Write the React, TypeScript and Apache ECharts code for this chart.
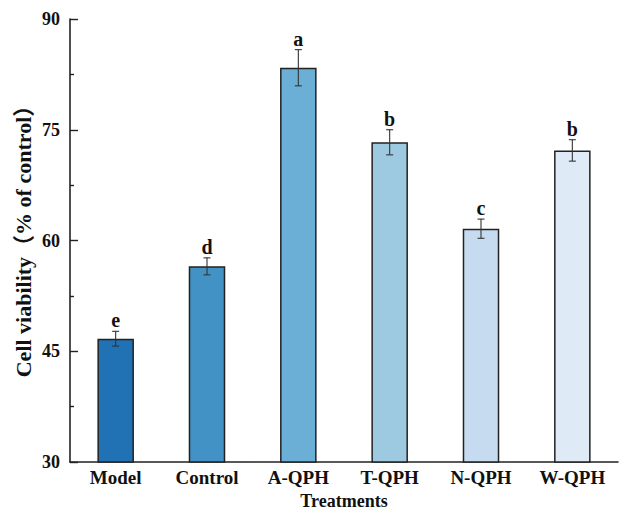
import React, { useEffect, useRef } from "react";
import * as echarts from "echarts";

// Treatment groups, mean viability, SD and significance letters
const categories = ["Model", "Control", "A-QPH", "T-QPH", "N-QPH", "W-QPH"];
const means = [46.7, 56.5, 83.4, 73.3, 61.6, 72.2];
const errors = [1.0, 1.15, 2.45, 1.7, 1.3, 1.45];
const letters = ["e", "d", "a", "b", "c", "b"];
const barColors = ["#2171b5", "#4292c6", "#6baed6", "#9ecae1", "#c6dbef", "#deebf7"];
const yTicks = { min: 30, max: 90, interval: 15 };
const yTitle = "Cell viability（% of control）";

const FONT = '"Liberation Serif", "Times New Roman", "Noto Sans CJK SC", serif';

export default function App() {
  const ref = useRef<HTMLDivElement>(null);

  useEffect(() => {
    if (!ref.current) return;
    const chart = echarts.init(ref.current, null, { renderer: "svg" });

    const errData = categories.map((_, i) => [i, means[i], errors[i]]);

    chart.setOption({
      animation: false,
      backgroundColor: "#ffffff",
      grid: { left: 70, right: 12, top: 19, bottom: 58 },
      graphic: [
        {
          type: "text",
          x: 23,
          y: 236,
          rotation: Math.PI / 2,
          style: {
            text: yTitle,
            align: "center",
            verticalAlign: "middle",
            fontFamily: FONT,
            fontWeight: "bold",
            fontSize: 22,
            fill: "#111",
          },
        },
      ],
      xAxis: [
        {
          type: "category",
          data: categories,
          boundaryGap: true,
          name: "Treatments",
          nameLocation: "middle",
          nameGap: 30,
          nameTextStyle: { fontFamily: FONT, fontWeight: "bold", fontSize: 18, color: "#111" },
          axisLine: { lineStyle: { color: "#222", width: 1.6 } },
          axisTick: { alignWithLabel: true, inside: true, length: 8, lineStyle: { color: "#222", width: 1.4 } },
          axisLabel: { fontFamily: FONT, fontWeight: "bold", fontSize: 19, color: "#111", margin: 6 },
        },
        {
          type: "category",
          data: categories,
          position: "bottom",
          boundaryGap: true,
          axisLine: { show: false },
          axisTick: { alignWithLabel: false, inside: true, length: 4, lineStyle: { color: "#222", width: 1.4 } },
          axisLabel: { show: false },
        },
      ],
      yAxis: {
        type: "value",
        min: yTicks.min,
        max: yTicks.max,
        interval: yTicks.interval,
        axisLine: { show: true, lineStyle: { color: "#222", width: 1.6 } },
        axisTick: { show: true, inside: true, length: 8, lineStyle: { color: "#222", width: 1.4 } },
        minorTick: { show: true, splitNumber: 2, length: 4, lineStyle: { color: "#222", width: 1.4 } },
        splitLine: { show: false },
        axisLabel: { fontFamily: FONT, fontWeight: "bold", fontSize: 18, color: "#111", margin: 10 },
      },
      series: [
        {
          type: "bar",
          data: means.map((v, i) => ({ value: v, itemStyle: { color: barColors[i] } })),
          barWidth: "40%",
          itemStyle: { borderColor: "#222", borderWidth: 1.5 },
        },
        {
          type: "custom",
          data: errData,
          z: 10,
          renderItem: (params: any, api: any) => {
            const x = api.value(0);
            const m = api.value(1);
            const e = api.value(2);
            const hi = api.coord([x, m + e]);
            const lo = api.coord([x, m - e]);
            const cap = 3.5;
            const style = { stroke: "#333", lineWidth: 1.1 };
            return {
              type: "group",
              children: [
                { type: "line", shape: { x1: hi[0], y1: hi[1], x2: lo[0], y2: lo[1] }, style },
                { type: "line", shape: { x1: hi[0] - cap, y1: hi[1], x2: hi[0] + cap, y2: hi[1] }, style },
                { type: "line", shape: { x1: lo[0] - cap, y1: lo[1], x2: lo[0] + cap, y2: lo[1] }, style },
                {
                  type: "text",
                  style: {
                    x: hi[0],
                    y: hi[1] - 1,
                    text: letters[params.dataIndex],
                    align: "center",
                    verticalAlign: "bottom",
                    fontFamily: FONT,
                    fontWeight: "bold",
                    fontSize: 20,
                    fill: "#111",
                  },
                },
              ],
            };
          },
        },
      ],
    });

    return () => chart.dispose();
  }, []);

  return (
    <div
      ref={ref}
      style={{ position: "absolute", left: 0, top: 0, width: 630, height: 520, background: "#fff" }}
    />
  );
}
